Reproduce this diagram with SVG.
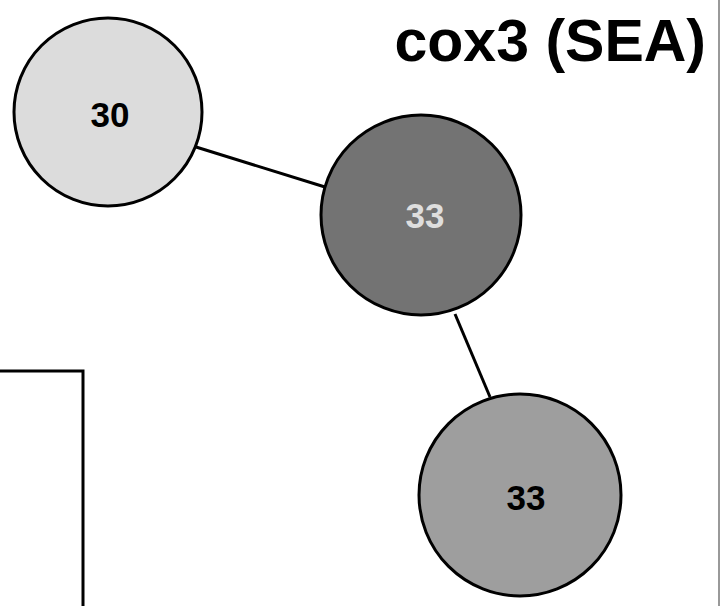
<svg xmlns="http://www.w3.org/2000/svg" width="720" height="606" viewBox="0 0 720 606">
<style>
.node{stroke:#000;stroke-width:3}
.lbl{font-family:"Liberation Sans",Arial,sans-serif;font-weight:bold;font-size:35px;text-anchor:middle}
.edge{stroke:#000;stroke-width:3;fill:none}
</style>
<rect width="720" height="606" fill="#fff"/>
<text x="706" y="61" font-family="Liberation Sans, Arial, sans-serif" font-weight="bold" font-size="59" text-anchor="end" fill="#000">cox3 (SEA)</text>
<line x1="719" y1="0" x2="719" y2="606" stroke="#555" stroke-width="1.2"/>
<path d="M0 371 H83 V606" fill="none" stroke="#000" stroke-width="3"/>
<g id="connectors">
<line class="edge" x1="196" y1="147" x2="325" y2="187"/>
<line class="edge" x1="455" y1="314" x2="490" y2="397"/>
</g>
<g id="node30">
<circle class="node" cx="108" cy="112" r="94" fill="#dcdcdc"/>
<text class="lbl" x="110" y="127" fill="#000">30</text>
</g>
<g id="node33a">
<circle class="node" cx="421" cy="215" r="100" fill="#737373"/>
<text class="lbl" x="425" y="228" fill="#dedede">33</text>
</g>
<g id="node33b">
<circle class="node" cx="520" cy="495" r="101" fill="#9e9e9e"/>
<text class="lbl" x="526" y="510" fill="#000">33</text>
</g>
</svg>
